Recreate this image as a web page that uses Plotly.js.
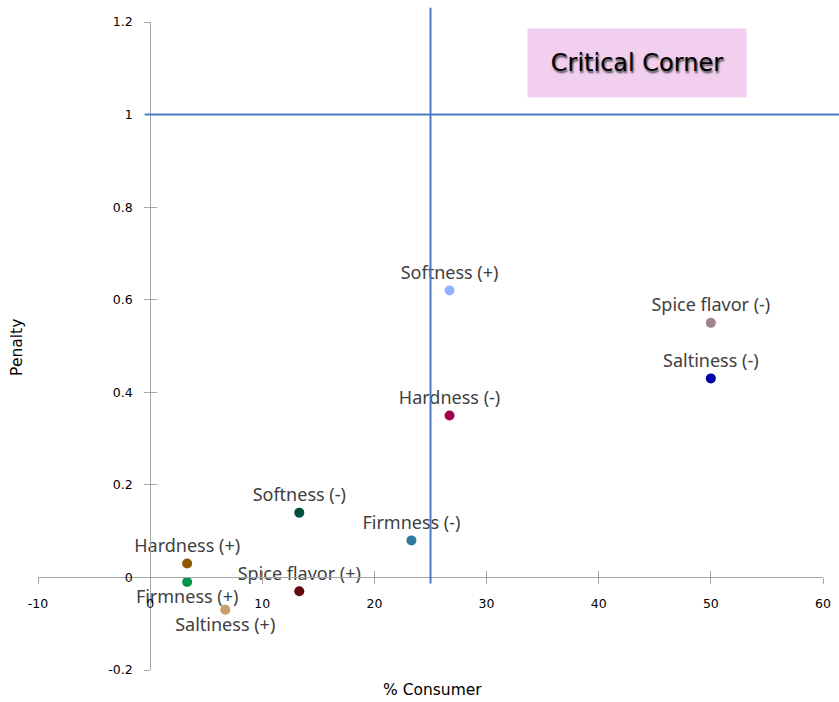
<!DOCTYPE html>
<html>
<head>
<meta charset="utf-8">
<script src="https://cdn.plot.ly/plotly-3.0.1.min.js"></script>
<style>html,body{margin:0;padding:0;background:#fff;}#chart{width:839px;height:702px;}</style>
</head>
<body>
<div id="chart"></div>
<script>
// Data
var attributes = ["Softness (+)", "Spice flavor (-)", "Saltiness (-)", "Hardness (-)", "Softness (-)",
                  "Firmness (-)", "Hardness (+)", "Firmness (+)", "Spice flavor (+)", "Saltiness (+)"];
var consumerPct = [26.7, 50, 50, 26.7, 13.3, 23.3, 3.3, 3.3, 13.3, 6.7];
var penalty     = [0.62, 0.55, 0.43, 0.35, 0.14, 0.08, 0.03, -0.01, -0.03, -0.07];
var pointColors = ["#8fb4ff", "#a0838b", "#0000a8", "#a3004f", "#00503f",
                   "#2e7a9c", "#8b5800", "#00954a", "#5e0a0e", "#c8a068"];
var labelPos    = ["top center", "top center", "top center", "top center", "top center",
                   "top center", "top center", "bottom center", "top center", "bottom center"];
var xTickVals = [-10, 0, 10, 20, 30, 40, 50, 60];
var xTickText = ["-10", "0", "10", "20", "30", "40", "50", "60"];
var yTickVals = [-0.2, 0, 0.2, 0.4, 0.6, 0.8, 1, 1.2];
var yTickText = ["-0.2", "0", "0.2", "0.4", "0.6", "0.8", "1", "1.2"];
var xRange = [-10, 60];
var yRange = [-0.2, 1.2];
var consumerThreshold = 25;
var penaltyThreshold = 1;

var axisFrac = function (r) { return (0 - r[0]) / (r[1] - r[0]); };

var trace = {
  type: "scatter",
  mode: "markers+text",
  x: consumerPct,
  y: penalty,
  text: attributes,
  textposition: labelPos,
  textfont: {family: "Noto Sans, sans-serif", size: 18, color: "#404040"},
  marker: {size: 10, color: pointColors},
  cliponaxis: false,
  hoverinfo: "x+y+text",
  showlegend: false
};

var tickFont = {family: "DejaVu Sans, sans-serif", size: 12.5, color: "#000"};

var layout = {
  width: 839, height: 702,
  margin: {l: 38, r: 16, t: 22, b: 32},
  paper_bgcolor: "#fff", plot_bgcolor: "#fff",
  showlegend: false,
  xaxis: {
    range: xRange, tickvals: xTickVals, ticktext: xTickText,
    showgrid: false, zeroline: false,
    showline: true, linecolor: "#a6a6a6", linewidth: 1,
    ticks: "outside", ticklen: 6, tickcolor: "#a6a6a6",
    anchor: "free", position: axisFrac(yRange),
    tickfont: tickFont, ticklabelstandoff: 9
  },
  yaxis: {
    range: yRange, tickvals: yTickVals, ticktext: yTickText,
    showgrid: false, zeroline: false,
    showline: true, linecolor: "#a6a6a6", linewidth: 1,
    ticks: "outside", ticklen: 6, tickcolor: "#a6a6a6",
    anchor: "free", position: axisFrac(xRange),
    tickfont: tickFont, ticklabelstandoff: 9
  },
  xaxis2: {
    range: xRange, tickvals: xTickVals, overlaying: "x",
    showgrid: false, zeroline: false, showline: false, showticklabels: false,
    ticks: "inside", ticklen: 6, tickcolor: "#a6a6a6",
    anchor: "free", position: axisFrac(yRange)
  },
  yaxis2: {
    range: yRange, tickvals: yTickVals, overlaying: "y",
    showgrid: false, zeroline: false, showline: false, showticklabels: false,
    ticks: "inside", ticklen: 6, tickcolor: "#a6a6a6",
    anchor: "free", position: axisFrac(xRange)
  },
  shapes: [
    {type: "line", xref: "x", yref: "paper", x0: consumerThreshold, x1: consumerThreshold,
     y0: ((-0.013 - yRange[0]) / (yRange[1] - yRange[0])), y1: 1.022,
     line: {color: "#4a7bc4", width: 2}},
    {type: "line", xref: "paper", yref: "y", x0: ((-0.46 - xRange[0]) / (xRange[1] - xRange[0])), x1: 1.021,
     y0: penaltyThreshold, y1: penaltyThreshold,
     line: {color: "#4a7bc4", width: 2}}
  ],
  annotations: [
    {text: "% Consumer", xref: "paper", yref: "paper", x: 0.502, y: -0.031,
     xanchor: "center", yanchor: "middle", showarrow: false,
     font: {family: "DejaVu Sans, sans-serif", size: 15.5, color: "#000"}},
    {text: "Penalty", xref: "paper", yref: "paper", x: -0.026, y: 0.498, textangle: -90,
     xanchor: "center", yanchor: "middle", showarrow: false,
     font: {family: "DejaVu Sans, sans-serif", size: 15.5, color: "#000"}},
    {text: "Critical Corner", xref: "paper", yref: "paper", x: 0.763, y: 0.9367,
     xanchor: "center", yanchor: "middle", showarrow: false,
     width: 218, height: 68, borderpad: 0, bgcolor: "#f2cfee",
     font: {family: "DejaVu Sans, sans-serif", size: 24, color: "#000", shadow: "1px 2px 2px #444"}}
  ]
};

var ghost = {type: "scatter", x: [], y: [], xaxis: "x2", yaxis: "y2", showlegend: false, hoverinfo: "skip"};

Plotly.newPlot("chart", [trace, ghost], layout, {displayModeBar: false, staticPlot: true});
</script>
</body>
</html>
